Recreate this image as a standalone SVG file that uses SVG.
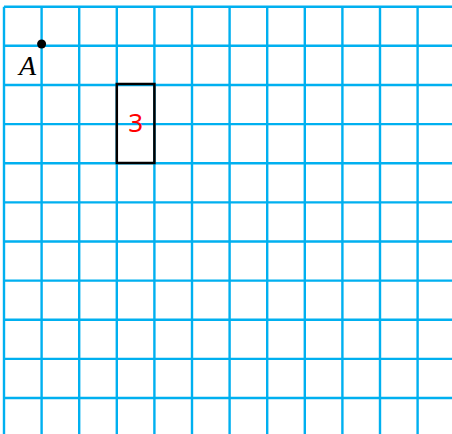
<svg xmlns="http://www.w3.org/2000/svg" width="452" height="434" viewBox="0 0 452 434">
<style>
.g{stroke:#00B0F0;stroke-width:2.4;fill:none}
.lbl{font-family:"Liberation Serif",serif;font-style:italic;font-size:28px;fill:#000}
.num{font-family:"Noto Sans","Liberation Sans",sans-serif;font-size:26px;fill:#FF0000}
</style>
<rect width="452" height="434" fill="#fff"/>
<g id="grid" class="g">
<path d="M4 6.7V434M41.6 6.7V434M79.2 6.7V434M116.8 6.7V434M154.4 6.7V434M192 6.7V434M229.6 6.7V434M267.2 6.7V434M304.8 6.7V434M342.4 6.7V434M380 6.7V434M417.6 6.7V434"/>
<path d="M4 6.7H452M4 45.8H452M4 85H452M4 124.1H452M4 163.2H452M4 202.4H452M4 241.5H452M4 280.6H452M4 319.7H452M4 358.9H452M4 398H452"/>
</g>
<g id="pointA">
<circle cx="41.6" cy="44" r="4.5" fill="#000"/>
<text class="lbl" x="19" y="75">A</text>
</g>
<g id="rect3">
<rect x="116.8" y="84" width="37.6" height="79" fill="none" stroke="#000" stroke-width="2.5"/>
<text class="num" x="135.6" y="132" text-anchor="middle">3</text>
</g>
<g id="connectors"/>
</svg>
